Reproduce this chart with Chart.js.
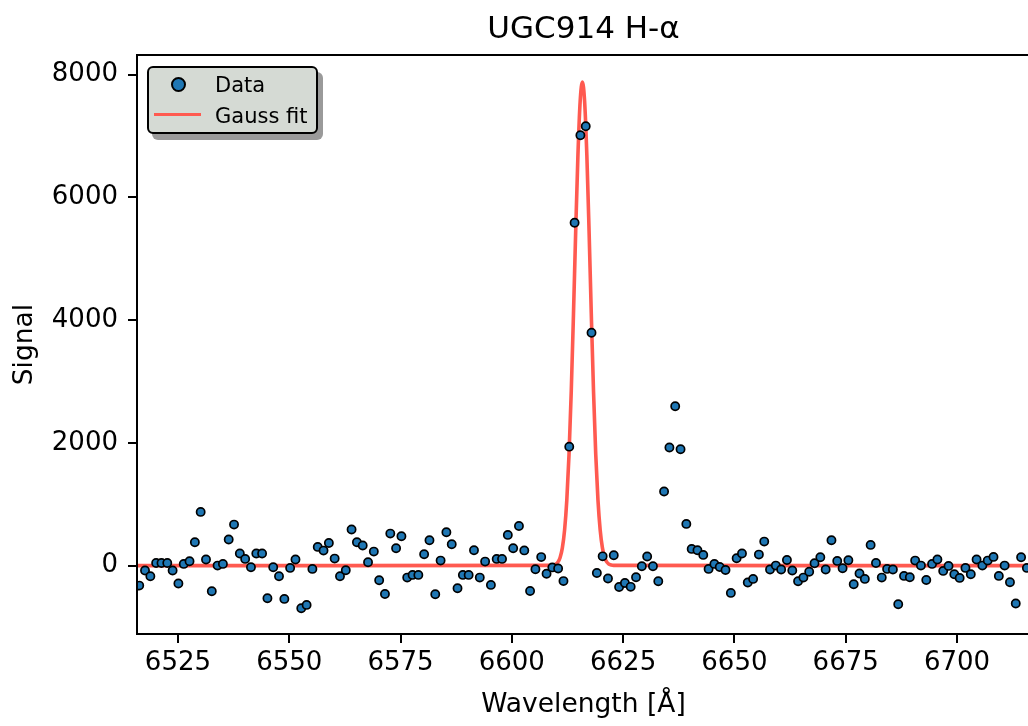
<!DOCTYPE html>
<html>
<head>
<meta charset="utf-8">
<title>UGC914 H-α</title>
<script src="https://cdn.jsdelivr.net/npm/chart.js@4/dist/chart.umd.min.js"></script>
<style>
  html, body { margin: 0; padding: 0; background: #fff; overflow: hidden; }
  #wrap { position: relative; width: 1040px; height: 726px; }
  #legend {
    position: absolute; left: 147px; top: 66px; width: 171px; height: 68px;
    box-sizing: border-box; border: 2px solid #000; border-radius: 6px;
    background: #d5dad4; box-shadow: 5px 6px 0 #9a9a9a;
    font-family: 'DejaVu Sans', sans-serif; font-size: 21px; color: #000;
  }
  #legend .dot {
    position: absolute; left: 22px; top: 9px; width: 15px; height: 15px;
    box-sizing: border-box; border: 2px solid #000; border-radius: 50%; background: #1f77b4;
  }
  #legend .line { position: absolute; left: 5px; top: 44.5px; width: 47px; height: 3.5px; background: #ff5a50; }
  #legend .lbl { position: absolute; left: 66px; line-height: 24px; white-space: nowrap; }
</style>
</head>
<body>
<div id="wrap">
  <canvas id="chart" width="1040" height="726"></canvas>
  <div id="legend">
    <span class="dot"></span><span class="lbl" style="top:4.5px">Data</span>
    <span class="line"></span><span class="lbl" style="top:36px">Gauss fit</span>
  </div>
</div>
<script>
// observed spectrum
const wavelength = [
  6516.3, 6517.6, 6518.8, 6520.1, 6521.3, 6522.6, 6523.8, 6525.1, 6526.3, 6527.6,
  6528.8, 6530.1, 6531.3, 6532.6, 6533.9, 6535.1, 6536.4, 6537.6, 6538.9, 6540.1,
  6541.4, 6542.6, 6543.9, 6545.1, 6546.4, 6547.7, 6548.9, 6550.2, 6551.4, 6552.7,
  6553.9, 6555.2, 6556.4, 6557.7, 6558.9, 6560.2, 6561.4, 6562.7, 6564.0, 6565.2,
  6566.5, 6567.7, 6569.0, 6570.2, 6571.5, 6572.7, 6574.0, 6575.2, 6576.5, 6577.7,
  6579.0, 6580.3, 6581.5, 6582.8, 6584.0, 6585.3, 6586.5, 6587.8, 6589.0, 6590.3,
  6591.5, 6592.8, 6594.0, 6595.3, 6596.6, 6597.8, 6599.1, 6600.3, 6601.6, 6602.8,
  6604.1, 6605.3, 6606.6, 6607.8, 6609.1, 6610.4, 6611.6, 6612.9, 6614.1, 6615.4,
  6616.6, 6617.9, 6619.1, 6620.4, 6621.6, 6622.9, 6624.1, 6625.4, 6626.7, 6627.9,
  6629.2, 6630.4, 6631.7, 6632.9, 6634.2, 6635.4, 6636.7, 6637.9, 6639.2, 6640.4,
  6641.7, 6643.0, 6644.2, 6645.5, 6646.7, 6648.0, 6649.2, 6650.5, 6651.7, 6653.0,
  6654.2, 6655.5, 6656.7, 6658.0, 6659.3, 6660.5, 6661.8, 6663.0, 6664.3, 6665.5,
  6666.8, 6668.0, 6669.3, 6670.5, 6671.8, 6673.1, 6674.3, 6675.6, 6676.8, 6678.1,
  6679.3, 6680.6, 6681.8, 6683.1, 6684.3, 6685.6, 6686.8, 6688.1, 6689.4, 6690.6,
  6691.9, 6693.1, 6694.4, 6695.6, 6696.9, 6698.1, 6699.4, 6700.6, 6701.9, 6703.1,
  6704.4, 6705.7, 6706.9, 6708.2, 6709.4, 6710.7, 6711.9, 6713.2, 6714.4, 6715.7
];
const signal = [
  -326, -81, -174, 43, 43, 43, -81, -293, 27, 71,
  380, 875, 98, -418, 0, 27, 424, 668, 196, 109,
  -27, 196, 196, -532, -27, -174, -543, -38, 98, -695,
  -641, -54, 304, 244, 369, 114, -174, -76, 587, 380,
  326, 54, 228, -239, -462, 521, 282, 478, -196, -152,
  -152, 185, 413, -467, 81, 543, 348, -369, -152, -152,
  250, -196, 65, -315, 109, 109, 500, 282, 645, 247,
  -415, -60, 138, -132, -30, -48, -253, 1938, 5586, 7013,
  7158, 3793, -120, 150, -211, 169, -350, -283, -347, -190,
  -11, 147, -11, -255, 1206, 1923, 2597, 1896, 679, 272,
  250, 174, -54, 27, -22, -71, -445, 119, 196, -277,
  -217, 179, 391, -65, 0, -65, 92, -81, -255, -196,
  -100, 38, 135, -65, 413, 76, -43, 87, -304, -130,
  -217, 337, 43, -196, -54, -65, -630, -168, -190, 81,
  0, -234, 27, 98, -87, -5, -141, -201, -38, -141,
  98, 0, 81, 141, -168, 0, -272, -619, 136, -38
];

// gaussian fit curve
const fitWavelength = [
  6515.8, 6560.0,
  6608.85, 6609.35, 6609.85, 6610.35, 6610.85, 6611.35, 6611.85, 6612.35, 6612.85, 6613.35,
  6613.85, 6614.35, 6614.85, 6615.35, 6615.85, 6616.35, 6616.85, 6617.35, 6617.85, 6618.35,
  6618.85, 6619.35, 6619.85, 6620.35, 6620.85, 6621.35, 6621.85, 6622.35, 6622.85,
  6670.0, 6716.4
];
const fitSignal = [
  0, 0,
  3, 8, 22, 56, 133, 289, 578, 1066, 1813, 2841,
  4101, 5458, 6692, 7565, 7880, 7565, 6692, 5458, 4101, 2841,
  1813, 1066, 578, 289, 133, 56, 22, 8, 3,
  0, 0
];

const xTicks = [6525, 6550, 6575, 6600, 6625, 6650, 6675, 6700];
const yTicks = [0, 2000, 4000, 6000, 8000];

const font = 'DejaVu Sans';

const frame = {
    id: 'frame',
    afterDatasetsDraw(chart) {
        const {ctx, chartArea} = chart;
        ctx.save();
        ctx.strokeStyle = '#000';
        ctx.lineWidth = 2;
        ctx.strokeRect(chartArea.left, chartArea.top, chartArea.right - chartArea.left, chartArea.bottom - chartArea.top);
        ctx.restore();
    }
};

const axisStyle = {
    border: { display: true, color: '#000', width: 2 },
    grid: { drawOnChartArea: false, drawTicks: true, tickLength: 9, color: '#000', lineWidth: 2 },
};

new Chart(document.getElementById('chart'), {
    type: 'scatter',
    data: {
        datasets: [{
            label: 'Data',
            data: wavelength.map((w, i) => ({ x: w, y: signal[i] })),
            backgroundColor: '#1f77b4',
            borderColor: '#000',
            borderWidth: 1.7,
            pointRadius: 4.1,
            order: 0,
            clip: 0,
        }, {
            label: 'Gauss fit',
            data: fitWavelength.map((w, i) => ({ x: w, y: fitSignal[i] })),
            showLine: true,
            borderColor: '#ff5a50',
            borderWidth: 3.6,
            pointRadius: 0,
            cubicInterpolationMode: 'monotone',
            order: 1,
        }]
    },
    options: {
        responsive: false,
        animation: false,
        events: [],
        layout: { padding: { left: 0, right: 10, top: 0, bottom: 0 } },
        plugins: {
            legend: { display: false },
            tooltip: { enabled: false },
            title: {
                display: true,
                text: 'UGC914 H-α',
                fullSize: false,
                color: '#000',
                font: { family: font, size: 31, weight: 'normal' },
                padding: { top: 11, bottom: 6.8 },
            },
        },
        scales: {
            x: {
                type: 'linear',
                min: 6515.8,
                max: 6716.4,
                ...axisStyle,
                afterBuildTicks: (scale) => { scale.ticks = xTicks.map(v => ({ value: v })); },
                afterFit: (scale) => { scale.height = 92; },
                ticks: {
                    color: '#000',
                    font: { family: font, size: 26 },
                    padding: 5,
                    maxRotation: 0,
                    callback: (v) => String(v),
                },
                title: {
                    display: true,
                    text: 'Wavelength [Å]',
                    color: '#000',
                    font: { family: font, size: 26.5 },
                    padding: { top: 0, bottom: 5 },
                },
            },
            y: {
                type: 'linear',
                min: -1115,
                max: 8320,
                ...axisStyle,
                afterBuildTicks: (scale) => { scale.ticks = yTicks.map(v => ({ value: v })); },
                afterFit: (scale) => { scale.width = 137; },
                ticks: {
                    color: '#000',
                    font: { family: font, size: 26 },
                    padding: 10,
                    callback: (v) => String(v),
                },
                title: {
                    display: true,
                    text: 'Signal',
                    color: '#000',
                    font: { family: font, size: 26.5 },
                    padding: { top: 9, bottom: 0 },
                },
            },
        },
    },
    plugins: [frame],
});
</script>
</body>
</html>
